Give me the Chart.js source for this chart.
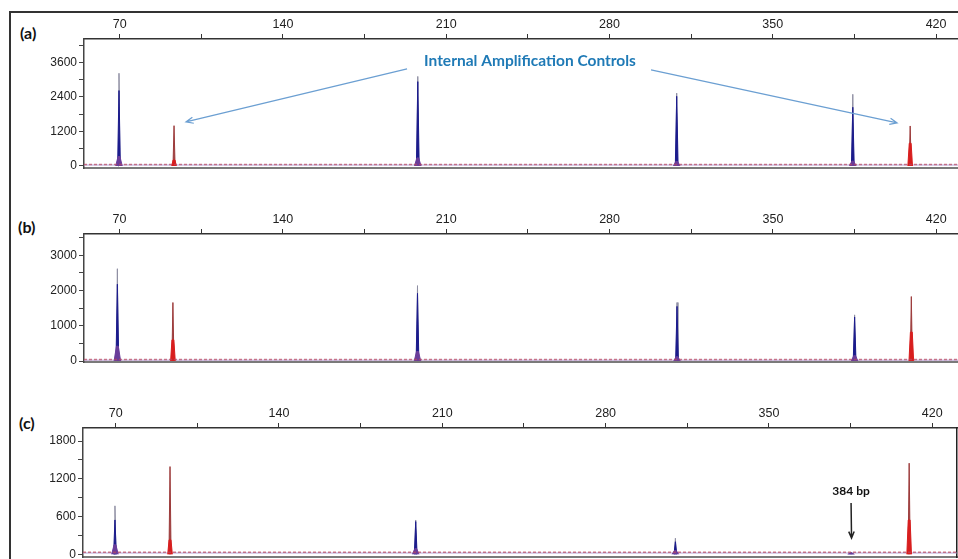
<!DOCTYPE html>
<html>
<head>
<meta charset="utf-8">
<script src="https://cdn.jsdelivr.net/npm/chart.js@4.4.1/dist/chart.umd.min.js"></script>
<style>
  body { margin: 0; background: #fff; overflow: hidden; }
  #wrap { position: relative; width: 958px; height: 559px; overflow: hidden; }
  .frame { position: absolute; left: 9px; top: 11px; width: 990px; height: 620px; border: 2px solid #333; box-sizing: border-box; }
  canvas { position: absolute; }
  .tag { position: absolute; font: bold 16px Lato, sans-serif; line-height: 16px; color: #111; }
</style>
</head>
<body>
<div id="wrap">
  <div class="frame"></div>
  <div class="tag" style="left:20px;top:25px">(a)</div>
  <div class="tag" style="left:18px;top:219px">(b)</div>
  <div class="tag" style="left:19px;top:415px">(c)</div>
  <canvas id="pa" width="924" height="171" style="left:34px;top:9px"></canvas>
  <canvas id="pb" width="924" height="170" style="left:34px;top:204px"></canvas>
  <canvas id="pc" width="925" height="171" style="left:33px;top:398px"></canvas>
</div>
<script>
// size axis (bp) ticks, shared by all panels
const sizeTicks = [70, 105, 140, 175, 210, 245, 280, 315, 350, 385, 420];
const sizeLabels = [70, 140, 210, 280, 350, 420];

// panel (a)
const yTicksA = [0, 600, 1200, 1800, 2400, 3000, 3600, 4200];
const yLabelsA = [0, 1200, 2400, 3600];
const bluePosA = [69.7, 197.8, 308.8, 384.3];
const blueTopA = [3220, 3110, 2530, 2490];
const blueFillA = [2620, 2930, 2420, 2040];
const blueBaseA = [330, 280, 160, 170];
const redPosA = [93.3, 408.9];
const redTopA = [1400, 1390];
const redFillA = [210, 790];
const noiseA = 55;

// panel (b)
const yTicksB = [0, 500, 1000, 1500, 2000, 2500, 3000, 3500];
const yLabelsB = [0, 1000, 2000, 3000];
const bluePosB = [69.1, 197.7, 308.9, 385.0];
const blueTopB = [2620, 2140, 1660, 1310];
const blueFillB = [2180, 1920, 1550, 1250];
const blueBaseB = [420, 270, 120, 150];
const redPosB = [92.9, 409.3];
const redTopB = [1660, 1830];
const redFillB = [600, 820];
const noiseB = 40;

// panel (c)
const yTicksC = [0, 300, 600, 900, 1200, 1500, 1800];
const yLabelsC = [0, 600, 1200, 1800];
const bluePosC = [69.7, 198.6, 309.9, 385.2];
const blueTopC = [770, 545, 255, 32];
const blueFillC = [546, 520, 200, 26];
const blueBaseC = [150, 90, 60, 20];
const redPosC = [93.3, 410.1];
const redTopC = [1394, 1448];
const redFillC = [230, 546];
const noiseC = 32;

function spikes(pos, h, hw) {
  const pts = [];
  pos.forEach((p, i) => {
    pts.push({x: p - hw, y: 0}, {x: p, y: h[i]}, {x: p + hw, y: 0}, {x: p + hw + 0.01, y: null});
  });
  return pts;
}
function bases(pos, h, hw) {
  const pts = [];
  pos.forEach((p, i) => {
    pts.push({x: p - hw, y: 0}, {x: p - 0.4, y: h[i]}, {x: p + 0.4, y: h[i]}, {x: p + hw, y: 0}, {x: p + hw + 0.01, y: null});
  });
  return pts;
}
function layer(data, color, order, width) {
  return {data, borderColor: color, backgroundColor: color, borderWidth: width || 1,
    fill: 'origin', pointRadius: 0, tension: 0, spanGaps: false, order,
    xAxisID: 'x', yAxisID: 'y'};
}

// arrows and notes placed in data coordinates
const notes = {
  id: 'notes',
  afterDraw(chart, args, opts) {
    const {ctx} = chart;
    const x = chart.scales.x, y = chart.scales.y;
    ctx.save();
    (opts.arrows || []).forEach(a => {
      const x1 = x.getPixelForValue(a.from[0]), y1 = y.getPixelForValue(a.from[1]);
      const x2 = x.getPixelForValue(a.to[0]), y2 = y.getPixelForValue(a.to[1]);
      ctx.strokeStyle = a.color;
      ctx.lineWidth = a.width;
      ctx.beginPath();
      ctx.moveTo(x1, y1);
      ctx.lineTo(x2, y2);
      const ang = Math.atan2(y2 - y1, x2 - x1);
      ctx.moveTo(x2 - a.head * Math.cos(ang - 0.4), y2 - a.head * Math.sin(ang - 0.4));
      ctx.lineTo(x2, y2);
      ctx.lineTo(x2 - a.head * Math.cos(ang + 0.4), y2 - a.head * Math.sin(ang + 0.4));
      ctx.stroke();
    });
    (opts.labels || []).forEach(t => {
      ctx.font = t.font;
      ctx.fillStyle = t.color;
      ctx.textAlign = 'center';
      ctx.textBaseline = 'middle';
      ctx.fillText(t.text, x.getPixelForValue(t.at[0]), y.getPixelForValue(t.at[1]));
    });
    ctx.restore();
  }
};
Chart.register(notes);

function makePanel(id, p) {
  const scales = {
    x: {
      type: 'linear', position: 'top', min: p.xmin, max: p.xmax,
      afterBuildTicks: s => { s.ticks = sizeTicks.map(v => ({value: v})); },
      afterFit: s => { s.height = 30; },
      ticks: {callback: v => sizeLabels.includes(v) ? String(v) : '', color: '#222', padding: 2,
        maxRotation: 0, autoSkip: false, font: {size: 12.5}},
      grid: {drawOnChartArea: false, tickLength: 5, color: '#333'},
      border: {color: '#333', width: 1.5}
    },
    xb: {
      type: 'linear', axis: 'x', position: 'bottom', min: p.xmin, max: p.xmax,
      afterFit: s => { s.height = 12; },
      ticks: {display: false}, grid: {display: false},
      border: {color: '#7a7a7a', width: 2}
    },
    y: {
      type: 'linear', min: p.ymin, max: p.ymax,
      afterBuildTicks: s => { s.ticks = p.yTicks.map(v => ({value: v})); },
      afterFit: s => { s.width = 50; },
      ticks: {callback: v => p.yLabels.includes(v) ? String(v) : '', color: '#222', padding: 2,
        autoSkip: false, font: {size: 12}},
      grid: {drawOnChartArea: false, tickLength: 5, color: '#444'},
      border: {color: '#444', width: 1.5}
    }
  };
  if (p.rightBorder) {
    scales.yr = {
      type: 'linear', axis: 'y', position: 'right', min: p.ymin, max: p.ymax,
      afterFit: s => { s.width = 1; },
      ticks: {display: false}, grid: {display: false},
      border: {color: '#222', width: 1.5}
    };
  }
  new Chart(document.getElementById(id), {
    type: 'line',
    data: {
      datasets: [
        {data: [{x: p.xmin, y: p.noise}, {x: p.xmax, y: p.noise}], borderColor: 'rgba(185,70,95,0.7)',
          borderWidth: 1.5, borderDash: [3, 2], pointRadius: 0, fill: false, order: 0, xAxisID: 'x', yAxisID: 'y'},
        {data: [{x: p.xmin, y: p.noise * 0.6}, {x: p.xmax, y: p.noise * 0.6}], borderColor: 'rgba(170,150,205,0.6)',
          borderWidth: 1.5, pointRadius: 0, fill: false, order: 5, xAxisID: 'x', yAxisID: 'y'},
        layer(bases(p.bluePos, p.blueBase, 1.4), '#6a3d9a', 1),
        layer(spikes(p.bluePos, p.blueFill, 0.6), '#1b1b8c', 2),
        layer(spikes(p.bluePos, p.blueTop, 0.4), '#8e8ea2', 3),
        layer(bases(p.redPos, p.redFill, 1.0), '#d81e1e', 1),
        layer(spikes(p.redPos, p.redTop, 0.45), '#9c3b3b', 3)
      ]
    },
    options: {
      responsive: false, animation: false, devicePixelRatio: 1,
      layout: {padding: 0},
      plugins: {legend: {display: false}, tooltip: {enabled: false}, notes: p.notes || {}},
      scales
    }
  });
}

Chart.defaults.font.family = '"Liberation Sans", Arial, sans-serif';

makePanel('pa', {
  xmin: 54.7, xmax: 429.4, ymin: -70, ymax: 4410, yTicks: yTicksA, yLabels: yLabelsA,
  bluePos: bluePosA, blueTop: blueTopA, blueFill: blueFillA, blueBase: blueBaseA,
  redPos: redPosA, redTop: redTopA, redFill: redFillA, noise: noiseA,
  notes: {
    arrows: [
      {from: [193.2, 3374], to: [98.4, 1530], color: '#6b9fd2', width: 1.2, head: 8},
      {from: [297.8, 3339], to: [403.3, 1496], color: '#6b9fd2', width: 1.2, head: 8}
    ],
    labels: [
      {text: 'Internal Amplification Controls', at: [245.9, 3652], font: 'bold 15.5px Lato, sans-serif', color: '#1f7ab6'}
    ]
  }
});
makePanel('pb', {
  xmin: 54.8, xmax: 429.3, ymin: -28, ymax: 3605, yTicks: yTicksB, yLabels: yLabelsB,
  bluePos: bluePosB, blueTop: blueTopB, blueFill: blueFillB, blueBase: blueBaseB,
  redPos: redPosB, redTop: redTopB, redFill: redFillB, noise: noiseB
});
makePanel('pc', {
  xmin: 56, xmax: 430.6, ymin: -43, ymax: 2007, yTicks: yTicksC, yLabels: yLabelsC,
  bluePos: bluePosC, blueTop: blueTopC, blueFill: blueFillC, blueBase: blueBaseC,
  redPos: redPosC, redTop: redTopC, redFill: redFillC, noise: noiseC, rightBorder: true,
  notes: {
    arrows: [
      {from: [385.2, 816], to: [385.4, 259], color: '#222', width: 1.5, head: 7}
    ],
    labels: [
      {text: '384 bp', at: [385.2, 998], font: 'bold 12px Lato, sans-serif', color: '#111'}
    ]
  }
});
</script>
</body>
</html>
